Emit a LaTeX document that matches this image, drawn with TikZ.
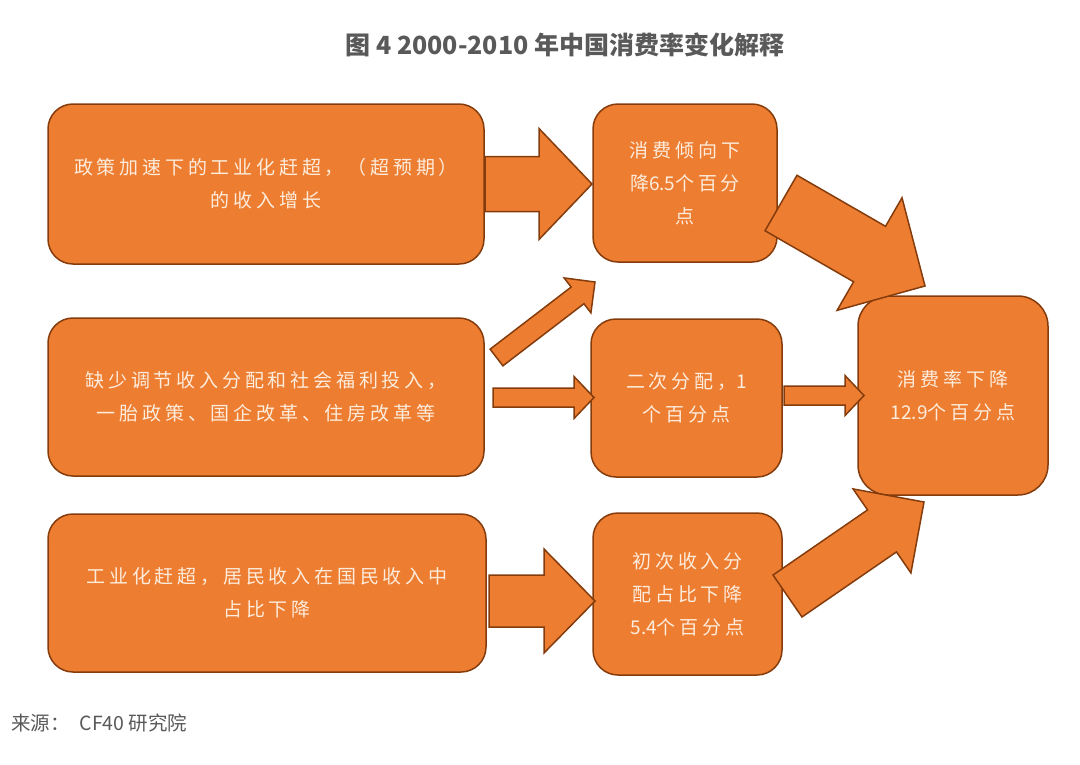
\documentclass[tikz,border=0pt]{standalone}
\usepackage{fontspec}
\setmainfont{Noto Sans CJK SC}
\newfontfamily\cjk[LetterSpace=20]{Noto Sans CJK SC}
\newfontfamily\num{Noto Sans CJK SC}
\usetikzlibrary{calc,positioning}

\definecolor{boxfill}{RGB}{237,125,49}
\definecolor{boxline}{RGB}{132,60,12}
\definecolor{boxtext}{RGB}{253,236,220}
\definecolor{titlegray}{RGB}{89,89,89}

% tail, tip, shaft half width, head half width, head length
\newcommand{\blockarrow}[5]{%
  \coordinate (hb) at ($(#2)!#5!(#1)$);
  \filldraw[arrowbody] ($(#1)!#3!90:(#2)$) -- ($(hb)!#3!-90:(#1)$) -- ($(hb)!#4!-90:(#1)$) -- (#2)
    -- ($(hb)!#4!90:(#1)$) -- ($(hb)!#3!90:(#1)$) -- ($(#1)!#3!-90:(#2)$) -- cycle;
}

\begin{document}
\begin{tikzpicture}[x=1pt,y=-1pt,inner sep=0pt,
  box/.style={draw=boxline,fill=boxfill,line width=1.5pt,rounded corners=25pt,
    text=boxtext,align=center,font=\cjk\fontsize{19}{33}\selectfont},
  arrowbody/.style={draw=boxline,fill=boxfill,line width=1.5pt,line join=miter}]
\useasboundingbox (0,0) rectangle (1080,764);

\node[font=\bfseries\fontsize{25}{30}\selectfont,text=titlegray] (title) at (565,45) {图 4 2000-2010 年中国消费率变化解释};

\node[box,minimum width=436pt,minimum height=160pt] (cause1) at (266,184) {政策加速下的工业化赶超，（超预期）\\的收入增长};
\node[box,minimum width=436pt,minimum height=158pt] (cause2) at (266,397) {缺少调节收入分配和社会福利投入，\\一胎政策、国企改革、住房改革等};
\node[box,minimum width=438pt,minimum height=158pt] (cause3) at (267,593) {工业化赶超，居民收入在国民收入中\\占比下降};

\node[box,minimum width=184pt,minimum height=158pt] (effect1) at (685,183) {消费倾向下\\降{\num 6.5}个百分\\点};
\node[box,minimum width=191pt,minimum height=158pt] (effect2) at (686.5,398) {二次分配，{\num 1}\\个百分点};
\node[box,minimum width=189pt,minimum height=162pt] (effect3) at (687.5,594) {初次收入分\\配占比下降\\{\num 5.4}个百分点};

\node[box,rounded corners=30pt,minimum width=190pt,minimum height=199pt] (total) at (953,395.5) {消费率下降\\{\num 12.9}个百分点};

\node[anchor=west,text=titlegray,font=\fontsize{19.5}{24}\selectfont] (source) at (11,723) {来源：\hspace{10pt}CF40 研究院};

\coordinate (a1s) at (485,184);
\coordinate (a1e) at (592,184);
\coordinate (a2s) at (496.5,357.5);
\coordinate (a2e) at (595,282);
\coordinate (a3s) at (493,397.5);
\coordinate (a3e) at (594,397.5);
\coordinate (a4s) at (489,601);
\coordinate (a4e) at (595,601);
\coordinate (a5s) at (784,395.5);
\coordinate (a5e) at (864,395.5);
\coordinate (a6s) at (781,203);
\coordinate (a6e) at (925,286);
\coordinate (a7s) at (787.5,596);
\coordinate (a7e) at (924,502);

\blockarrow{a1s}{a1e}{27.5pt}{55.5pt}{53pt}
\blockarrow{a2s}{a2e}{10.5pt}{22pt}{22pt}
\blockarrow{a3s}{a3e}{9.5pt}{21pt}{20pt}
\blockarrow{a4s}{a4e}{26pt}{52pt}{51pt}
\blockarrow{a5s}{a5e}{9.5pt}{20pt}{19pt}
\blockarrow{a6s}{a6e}{32pt}{65pt}{64pt}
\blockarrow{a7s}{a7e}{25.5pt}{51pt}{51pt}
\end{tikzpicture}
\end{document}
